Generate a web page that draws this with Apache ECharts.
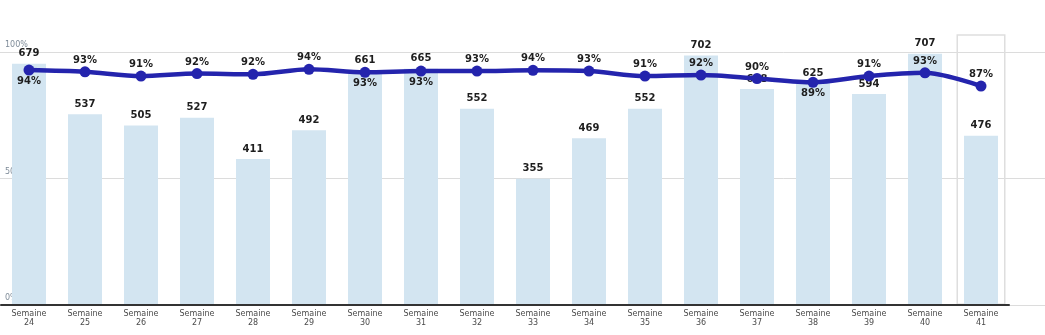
<!DOCTYPE html>
<html>
<head>
<meta charset="utf-8">
<script src="https://cdn.jsdelivr.net/npm/echarts@6/dist/echarts.min.js"></script>
<style>
  html, body { margin: 0; padding: 0; background: #fff; }
  #chart { width: 1045px; height: 335px; }
</style>
</head>
<body>
<div id="chart"></div>
<script>
const categories = ['Semaine 24','Semaine 25','Semaine 26','Semaine 27','Semaine 28','Semaine 29','Semaine 30','Semaine 31','Semaine 32','Semaine 33','Semaine 34','Semaine 35','Semaine 36','Semaine 37','Semaine 38','Semaine 39','Semaine 40','Semaine 41'];
const volumes = [679, 537, 505, 527, 411, 492, 661, 665, 552, 355, 469, 552, 702, 608, 625, 594, 707, 476];
const rates = [93.8, 93.1, 91.4, 92.4, 92.1, 94.1, 92.9, 93.4, 93.4, 93.7, 93.4, 91.4, 91.8, 90.4, 88.9, 91.4, 92.7, 87.4];
const rateLabelSide = ['bottom','top','top','top','top','top','bottom','bottom','top','top','top','top','top','top','bottom','top','top','top'];
const percentTicks = [0, 50, 100];
const highlightWeek = 'Semaine 41';

const labelFont = 'DejaVu Sans';
const highlightTop = 762;

const chart = echarts.init(document.getElementById('chart'), null, { renderer: 'canvas' });

chart.setOption({
  animation: false,
  backgroundColor: '#ffffff',
  grid: [
    { left: 1, right: 36, top: 52, bottom: 30 },
    { left: 0, right: 0, top: 52, bottom: 30 }
  ],
  xAxis: [
    {
      type: 'category', gridIndex: 0, data: categories, position: 'bottom',
      axisLine: { show: true, lineStyle: { color: '#333', width: 2 } },
      axisTick: { show: false },
      axisLabel: {
        fontFamily: labelFont, fontSize: 8, color: '#4a4a4a', margin: 4, lineHeight: 9,
        interval: 0,
        formatter: v => v.replace(' ', '\n')
      },
      z: 4
    },
    { type: 'category', gridIndex: 0, data: categories, show: false },
    { type: 'value', gridIndex: 1, min: 0, max: 1, show: false }
  ],
  yAxis: [
    { type: 'value', gridIndex: 0, min: 0, max: 712, show: false },
    { type: 'value', gridIndex: 0, min: 0, max: 101, show: false },
    {
      type: 'value', gridIndex: 1, min: 0, max: 100, interval: 50,
      axisLine: { show: false }, axisTick: { show: false },
      splitLine: { show: true, lineStyle: { color: '#dcdcdc', width: 1 } },
      axisLabel: {
        inside: true, margin: 5, fontFamily: labelFont, fontSize: 8, color: '#7f8c99',
        verticalAlign: 'bottom', padding: [0, 0, 3, 0],
        formatter: v => percentTicks.indexOf(v) >= 0 ? v + '%' : ''
      }
    }
  ],
  series: [
    {
      name: 'highlight', type: 'bar', xAxisIndex: 1, yAxisIndex: 0,
      data: categories.map(c => c === highlightWeek ? highlightTop : null),
      barWidth: 49, z: 1, silent: true, clip: false,
      itemStyle: { color: 'rgba(255,255,255,0)', borderColor: '#dedede', borderWidth: 1.5 }
    },
    {
      name: 'Volume', type: 'bar', xAxisIndex: 0, yAxisIndex: 0,
      data: volumes, barWidth: 34, z: 2,
      itemStyle: { color: '#d3e5f1' },
      label: {
        show: true, position: 'top', distance: 5,
        fontFamily: labelFont, fontSize: 10, fontWeight: 'bold', color: '#1e1e1e'
      }
    },
    {
      name: 'Taux', type: 'line', xAxisIndex: 0, yAxisIndex: 1,
      data: rates.map((v, i) => ({ value: v, label: { position: rateLabelSide[i] } })),
      smooth: 0.3, z: 3,
      symbol: 'circle', symbolSize: 11,
      lineStyle: { color: '#2424ad', width: 4.5 },
      itemStyle: { color: '#2424ad' },
      label: {
        show: true, distance: 1,
        fontFamily: labelFont, fontSize: 10, fontWeight: 'bold', color: '#1e1e1e',
        formatter: p => Math.round(p.value) + '%'
      }
    }
  ]
});
</script>
</body>
</html>
